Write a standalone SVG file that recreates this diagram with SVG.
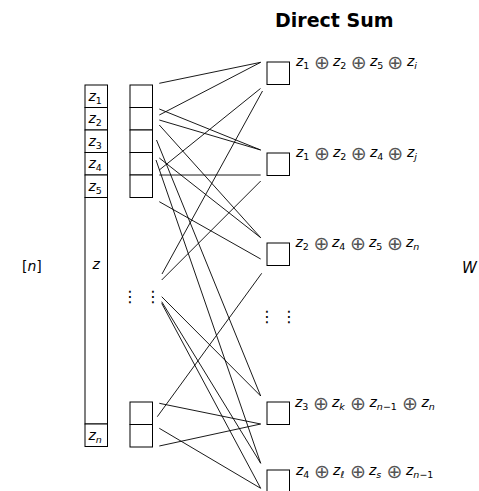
<svg xmlns="http://www.w3.org/2000/svg" width="479" height="491" viewBox="0 0 479 491">
<style>
text{font-family:"DejaVu Sans",sans-serif;fill:#000}
.t{font-size:19px;font-weight:bold}
.m{font-size:14px}
.it{font-style:italic}
.s{font-size:9.5px}
.op{font-size:19px;fill:#555}
.dots{font-size:16px}
.cell{fill:#fff;stroke:#000;stroke-width:1}
#connectors line{stroke:#000;stroke-width:0.9}
</style>
<rect width="479" height="491" fill="#fff"/>
<text class="t" x="275" y="26.7">Direct Sum</text>

<g id="connectors">
<line x1="159.3" y1="83.3" x2="260.7" y2="62.3"/>
<line x1="159.3" y1="115" x2="260.7" y2="62.3"/>
<line x1="159.3" y1="170" x2="260.5" y2="88.5"/>
<line x1="162" y1="274" x2="262.5" y2="91"/>
<line x1="159.3" y1="109" x2="260.7" y2="150"/>
<line x1="159.3" y1="120" x2="260.7" y2="150"/>
<line x1="159.3" y1="175" x2="260.7" y2="175"/>
<line x1="161.7" y1="280" x2="260.7" y2="181"/>
<line x1="159.3" y1="125" x2="260.7" y2="237.7"/>
<line x1="159.3" y1="158" x2="260.7" y2="237.7"/>
<line x1="159.3" y1="201.7" x2="260.7" y2="259"/>
<line x1="157.3" y1="416.7" x2="261.7" y2="273.3"/>
<line x1="156.5" y1="140" x2="260.7" y2="396"/>
<line x1="161.7" y1="296.7" x2="260.7" y2="396"/>
<line x1="159.3" y1="403.3" x2="260.7" y2="424"/>
<line x1="159.3" y1="446" x2="260.7" y2="424"/>
<line x1="156" y1="160" x2="260.7" y2="463.3"/>
<line x1="161.7" y1="301.7" x2="260.7" y2="463.3"/>
<line x1="161.7" y1="303.3" x2="260.7" y2="488.3"/>
<line x1="159.3" y1="428.3" x2="260.7" y2="488.3"/>
</g>

<g id="set-n">
<text class="m" x="22" y="271">[<tspan class="it">n</tspan>]</text>
</g>

<g id="z-column">
<rect class="cell" x="85" y="85" width="22.5" height="22.5"/>
<rect class="cell" x="85" y="107.5" width="22.5" height="22.5"/>
<rect class="cell" x="85" y="130" width="22.5" height="22.5"/>
<rect class="cell" x="85" y="152.5" width="22.5" height="22.5"/>
<rect class="cell" x="85" y="175" width="22.5" height="22.5"/>
<rect class="cell" x="85" y="197.5" width="22.5" height="226.5"/>
<rect class="cell" x="85" y="424" width="22.5" height="22.5"/>
<text class="m" x="88.5" y="100.5"><tspan class="it">z</tspan><tspan class="s" dy="3">1</tspan></text>
<text class="m" x="88.5" y="123"><tspan class="it">z</tspan><tspan class="s" dy="3">2</tspan></text>
<text class="m" x="88.5" y="145.5"><tspan class="it">z</tspan><tspan class="s" dy="3">3</tspan></text>
<text class="m" x="88.5" y="168"><tspan class="it">z</tspan><tspan class="s" dy="3">4</tspan></text>
<text class="m" x="88.5" y="190.5"><tspan class="it">z</tspan><tspan class="s" dy="3">5</tspan></text>
<text class="m it" x="92.5" y="269">z</text>
<text class="m" x="88.5" y="439.5"><tspan class="it">z</tspan><tspan class="s it" dy="3">n</tspan></text>
</g>

<g id="inputs">
<rect class="cell" x="130" y="85" width="22.5" height="22.5"/>
<rect class="cell" x="130" y="107.5" width="22.5" height="22.5"/>
<rect class="cell" x="130" y="130" width="22.5" height="22.5"/>
<rect class="cell" x="130" y="152.5" width="22.5" height="22.5"/>
<rect class="cell" x="130" y="175" width="22.5" height="22.5"/>
<rect class="cell" x="130" y="402" width="22.5" height="22.5"/>
<rect class="cell" x="130" y="424.5" width="22.5" height="22.5"/>
<text class="dots" x="130" y="302" text-anchor="middle">⋮</text>
<text class="dots" x="153" y="302" text-anchor="middle">⋮</text>
</g>

<g id="out1">
<rect class="cell" x="267" y="62" width="22.5" height="22.5"/>
<text class="m"><tspan x="296" y="66" class="it">z</tspan><tspan class="s" y="69">1</tspan><tspan class="op" x="314" y="69">⊕</tspan><tspan class="it" x="333" y="66">z</tspan><tspan class="s" y="69">2</tspan><tspan class="op" x="350.7" y="69">⊕</tspan><tspan class="it" x="370" y="66">z</tspan><tspan class="s" y="69">5</tspan><tspan class="op" x="387.3" y="69">⊕</tspan><tspan class="it" x="407" y="66">z</tspan><tspan class="s it" y="69">i</tspan></text>
</g>
<g id="out2">
<rect class="cell" x="267" y="153" width="22.5" height="22.5"/>
<text class="m"><tspan x="296" y="157" class="it">z</tspan><tspan class="s" y="160">1</tspan><tspan class="op" x="314" y="160">⊕</tspan><tspan class="it" x="333" y="157">z</tspan><tspan class="s" y="160">2</tspan><tspan class="op" x="350.7" y="160">⊕</tspan><tspan class="it" x="370" y="157">z</tspan><tspan class="s" y="160">4</tspan><tspan class="op" x="387.3" y="160">⊕</tspan><tspan class="it" x="407" y="157">z</tspan><tspan class="s it" y="160">j</tspan></text>
</g>
<g id="out3">
<rect class="cell" x="267" y="243" width="22.5" height="22.5"/>
<text class="m"><tspan x="295.5" y="247" class="it">z</tspan><tspan class="s" y="250">2</tspan><tspan class="op" x="313.5" y="250">⊕</tspan><tspan class="it" x="332" y="247">z</tspan><tspan class="s" y="250">4</tspan><tspan class="op" x="350" y="250">⊕</tspan><tspan class="it" x="369" y="247">z</tspan><tspan class="s" y="250">5</tspan><tspan class="op" x="387" y="250">⊕</tspan><tspan class="it" x="406" y="247">z</tspan><tspan class="s it" y="250">n</tspan></text>
</g>

<g id="vdots-out">
<text class="dots" x="267" y="322" text-anchor="middle">⋮</text>
<text class="dots" x="289" y="322" text-anchor="middle">⋮</text>
</g>

<g id="out4">
<rect class="cell" x="267" y="402" width="22.5" height="22.5"/>
<text class="m"><tspan x="295" y="406.5" class="it">z</tspan><tspan class="s" y="409.5">3</tspan><tspan class="op" x="313" y="409.5">⊕</tspan><tspan class="it" x="332" y="406.5">z</tspan><tspan class="s it" y="409.5">k</tspan><tspan class="op" x="350" y="409.5">⊕</tspan><tspan class="it" x="369.5" y="406.5">z</tspan><tspan class="s" y="409.5"><tspan class="it">n</tspan>−1</tspan><tspan class="op" x="402" y="409.5">⊕</tspan><tspan class="it" x="421.5" y="406.5">z</tspan><tspan class="s it" y="409.5">n</tspan></text>
</g>
<g id="out5">
<rect class="cell" x="267" y="470" width="22.5" height="22.5"/>
<text class="m"><tspan x="296" y="475" class="it">z</tspan><tspan class="s" y="478">4</tspan><tspan class="op" x="314" y="478">⊕</tspan><tspan class="it" x="333" y="475">z</tspan><tspan class="s it" y="478">ℓ</tspan><tspan class="op" x="350" y="478">⊕</tspan><tspan class="it" x="369" y="475">z</tspan><tspan class="s it" y="478">s</tspan><tspan class="op" x="386.5" y="478">⊕</tspan><tspan class="it" x="406" y="475">z</tspan><tspan class="s" y="478"><tspan class="it">n</tspan>−1</tspan></text>
</g>

<g id="set-W">
<text class="it" x="462" y="272.5" style="font-size:15px">W</text>
</g>
</svg>
